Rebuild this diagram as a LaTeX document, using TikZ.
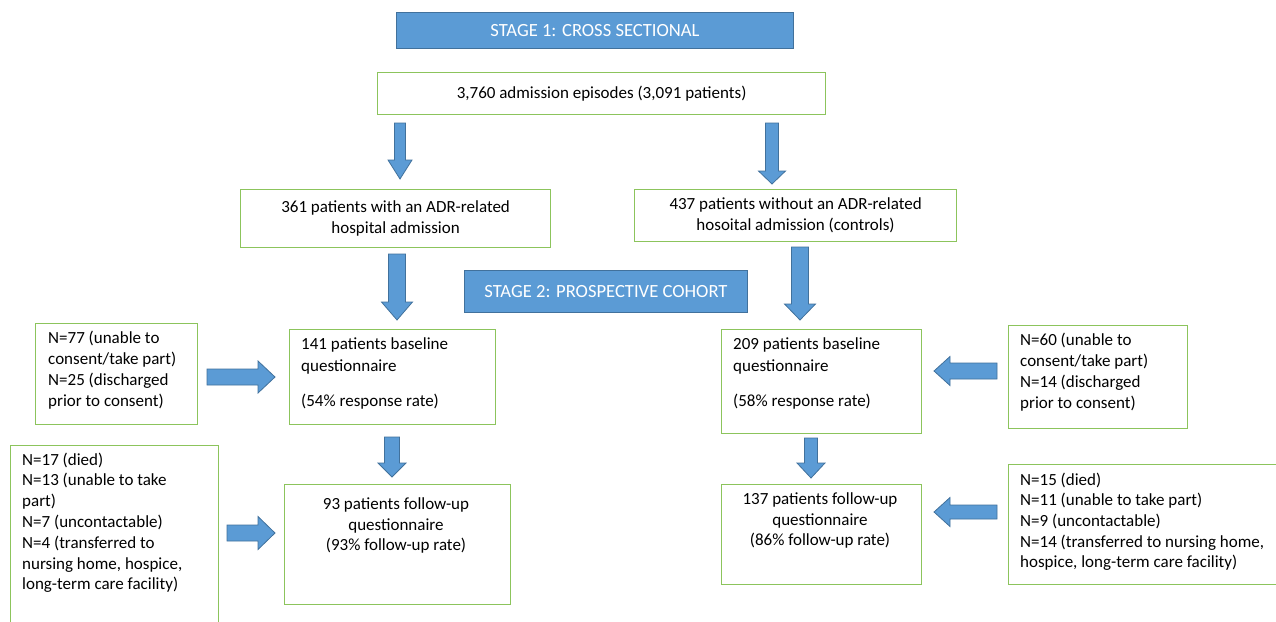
\documentclass[tikz,border=0pt]{standalone}
\usepackage{fontspec}
\setmainfont{Carlito}
\definecolor{gb}{RGB}{140,196,92}
\definecolor{bf}{RGB}{91,155,213}
\definecolor{bd}{RGB}{65,113,156}
\tikzset{
  gbox/.style={draw=gb, line width=1.2pt, fill=white, inner sep=0pt, anchor=north west},
  sbox/.style={draw=bd, fill=bf, line width=1pt, text=white, inner sep=0pt, anchor=north west, font=\fontsize{18.6}{22}\selectfont},
  blk/.style={fill=bf, draw=bd, line width=0.8pt, line join=miter},
  txt/.style={inner sep=0pt, font=\fontsize{17}{21}\selectfont},
  tl/.style={txt, align=left, anchor=north west},
  tc/.style={txt, align=center, anchor=north},
}
% vertical block arrow: cx, ytop, ytip, shaft half, head half, ybase of head
\newcommand\vblk[6]{%
  \filldraw[blk] ({#1-#4},#2) -- ({#1+#4},#2) -- ({#1+#4},#6) -- ({#1+#5},#6) -- (#1,#3)
    -- ({#1-#5},#6) -- ({#1-#4},#6) -- cycle;}
% horizontal block arrow: yc, xtail, xtip, shaft half, head half, xbase of head
\newcommand\hblk[6]{%
  \filldraw[blk] (#2,{#1-#4}) -- (#6,{#1-#4}) -- (#6,{#1-#5}) -- (#3,#1) -- (#6,{#1+#5})
    -- (#6,{#1+#4}) -- (#2,{#1+#4}) -- cycle;}
\begin{document}
\begin{tikzpicture}[x=1pt,y=-1pt]
\useasboundingbox (0,0) rectangle (1276,621);
\clip (0,0) rectangle (1276,621);
\fill[white] (0,0) rectangle (1276,621);

% stage headers
\node[sbox, minimum width=397, minimum height=36] (st1) at (396,12) {STAGE 1: CROSS SECTIONAL};
\node[sbox, minimum width=283, minimum height=42] (st2) at (464,270) {STAGE 2: PROSPECTIVE COHORT};

% boxes
\node[gbox, txt, minimum width=448, minimum height=42] (top) at (377,72) {3,760 admission episodes (3,091 patients)};
\node[gbox, txt, align=center, minimum width=310, minimum height=58] (b361) at (240,189)
  {361 patients with an ADR-related\\hospital admission};
\node[gbox, txt, align=center, minimum width=322, minimum height=52, text depth=3pt] (b437) at (634,189)
  {437 patients without an ADR-related\\hosoital admission (controls)};

\node[gbox, minimum width=162, minimum height=101] (n77) at (35,323) {};
\node[gbox, minimum width=206, minimum height=95] (b141) at (289,329) {};
\node[gbox, minimum width=208, minimum height=200] (n17) at (10,445) {};
\node[gbox, minimum width=226, minimum height=120] (b93) at (284,484) {};
\node[gbox, minimum width=200, minimum height=104] (b209) at (721,329) {};
\node[gbox, minimum width=179, minimum height=103] (n60) at (1008,325) {};
\node[gbox, minimum width=200, minimum height=100] (b137) at (721,484) {};
\node[gbox, minimum width=290, minimum height=120] (n15) at (1008,464) {};

% texts
\node[tl] (n77t) at (48,330.5) {N=77 (unable to\\consent/take part)\\N=25 (discharged\\prior to consent)};
\node[tl, font=\fontsize{17}{22}\selectfont] (b141t) at (301,337.5) {141 patients baseline\\questionnaire\\[13pt](54\% response rate)};
\node[tl, font=\fontsize{17}{20.8}\selectfont] (n17t) at (22,452.5) {N=17 (died)\\N=13 (unable to take\\part)\\N=7 (uncontactable)\\N=4 (transferred to\\nursing home, hospice,\\long-term care facility)};
\node[tc, font=\fontsize{17}{20.5}\selectfont] (b93t) at (396,497.5) {93 patients follow-up\\questionnaire\\(93\% follow-up rate)};
\node[tl, font=\fontsize{17}{22}\selectfont] (b209t) at (733,337.5) {209 patients baseline\\questionnaire\\[13pt](58\% response rate)};
\node[tl] (n60t) at (1020,332.5) {N=60 (unable to\\consent/take part)\\N=14 (discharged\\prior to consent)};
\node[tc, font=\fontsize{17}{20.5}\selectfont] (b137t) at (820,492.5) {137 patients follow-up\\questionnaire\\(86\% follow-up rate)};
\node[tl, font=\fontsize{17}{20.7}\selectfont] (n15t) at (1020,472.5) {N=15 (died)\\N=11 (unable to take part)\\N=9 (uncontactable)\\N=14 (transferred to nursing home,\\hospice, long-term care facility)};

% block arrows
\vblk{400}{123}{179}{5.5}{12}{160}
\vblk{772}{123}{184}{6.5}{13.5}{171}
\vblk{397}{254}{320}{8.5}{15.5}{302}
\vblk{800}{247}{320}{8.5}{15.5}{304}
\vblk{392}{437}{477}{7.5}{14}{463}
\vblk{811}{438}{478}{6.5}{14}{463}
\hblk{377}{207}{275}{8}{16}{258}
\hblk{533}{227}{275}{8}{16.5}{258}
\hblk{371}{997}{934}{8}{14.5}{950}
\hblk{512}{997}{934}{7}{14.5}{950}
\end{tikzpicture}
\end{document}
